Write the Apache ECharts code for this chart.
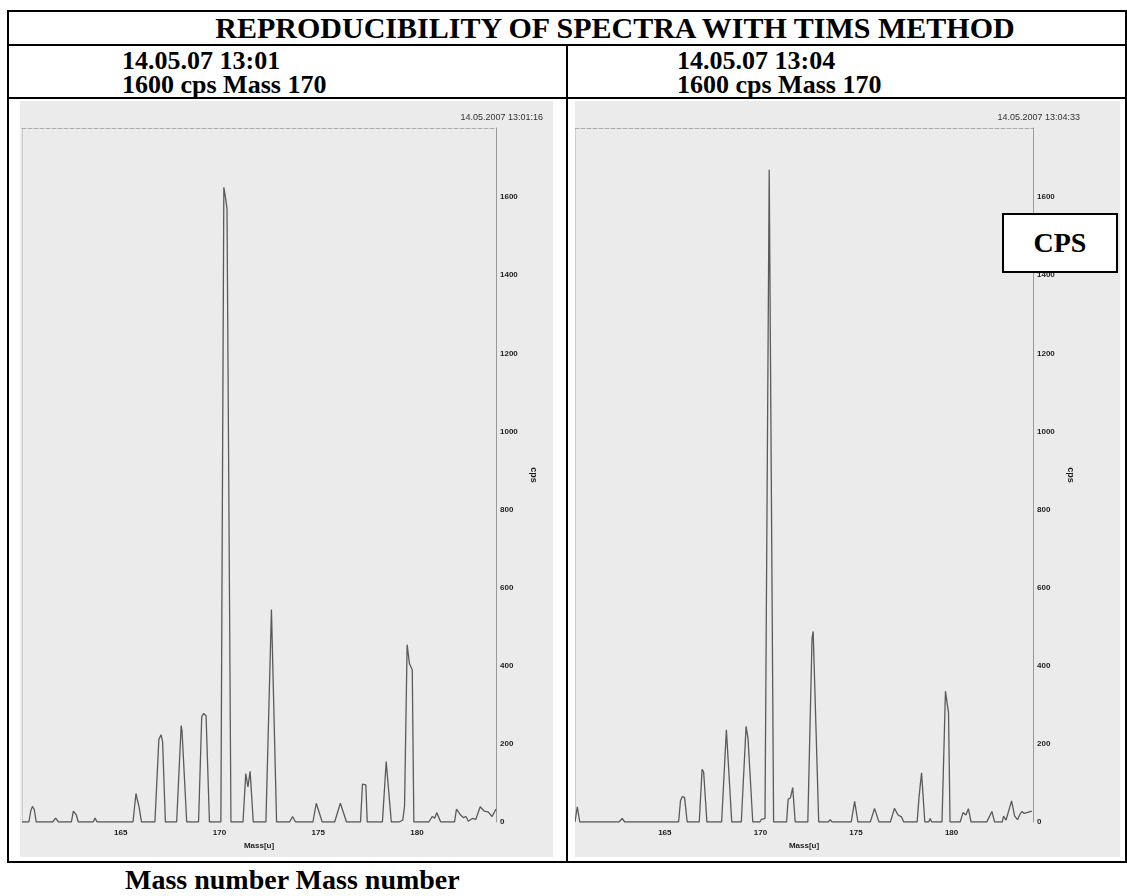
<!DOCTYPE html>
<html>
<head>
<meta charset="utf-8">
<script src="https://cdn.jsdelivr.net/npm/echarts@6/dist/echarts.min.js"></script>
<style>
  body{margin:0;background:#fff;width:1127px;height:896px;position:relative;overflow:hidden;
    font-family:"Liberation Serif","Times New Roman",serif;}
  .ln{position:absolute;background:#000;}
  .txt{position:absolute;font-weight:bold;color:#000;white-space:nowrap;line-height:1;}
  .chart{position:absolute;}
  #cpsbox{position:absolute;left:1002px;top:213px;width:112px;height:56px;background:#fff;
    border:2px solid #000;font-weight:bold;font-size:28px;line-height:56px;text-align:center;}
</style>
</head>
<body>
<!-- table frame -->
<div class="ln" style="left:7px;top:10px;width:1120px;height:2px"></div>
<div class="ln" style="left:7px;top:44px;width:1120px;height:2px"></div>
<div class="ln" style="left:7px;top:97px;width:1120px;height:2px"></div>
<div class="ln" style="left:7px;top:861px;width:1120px;height:2px"></div>
<div class="ln" style="left:7px;top:10px;width:2px;height:853px"></div>
<div class="ln" style="left:1125px;top:10px;width:2px;height:853px"></div>
<div class="ln" style="left:566px;top:44px;width:2px;height:819px"></div>

<div class="txt" style="left:0;width:1230px;text-align:center;top:13px;font-size:30px">REPRODUCIBILITY OF SPECTRA WITH TIMS METHOD</div>
<div class="txt" style="left:122px;top:48px;font-size:26px">14.05.07 13:01</div>
<div class="txt" style="left:122px;top:72px;font-size:26px">1600 cps Mass 170</div>
<div class="txt" style="left:677px;top:48px;font-size:26px">14.05.07 13:04</div>
<div class="txt" style="left:677px;top:72px;font-size:26px">1600 cps Mass 170</div>
<div class="txt" style="left:125px;top:866px;font-size:28px">Mass number Mass number</div>

<div id="left" class="chart" style="left:20px;top:101px;width:533px;height:756px"></div>
<div id="right" class="chart" style="left:575px;top:101px;width:545px;height:756px"></div>
<div id="cpsbox">CPS</div>

<script>
// tick labels
var massTicks = [165, 170, 175, 180];
var cpsTicks = [0, 200, 400, 600, 800, 1000, 1200, 1400, 1600];

// spectrum 13:01 (vertices)
var massLeft = [160.0,160.35,160.45,160.53,160.62,160.72, 161.55,161.7,161.85,
  162.5,162.6,162.67,162.75,162.85, 163.6,163.7,163.8,
  165.62,165.77,165.85,165.93,166.05, 166.73,166.93,167.04,167.12,167.26,
  167.83,168.06,168.1,168.34, 168.94,169.1,169.2,169.32,169.49,
  170.07,170.22,170.3,170.38,170.58, 171.19,171.33,171.44,171.55,171.71,
  172.35,172.63,172.89, 173.55,173.7,173.85, 174.73,174.9,175.0,175.2,
  175.83,176.12,176.43, 177.14,177.24,177.41,177.48, 178.25,178.44,178.5,178.7,
  179.1,179.28,179.37,179.5,179.62,179.76,179.84,
  180.6,180.77,180.9,181.0,181.2,
  181.9,182.0,182.22,182.36,182.48,182.6,182.8,182.98,183.2,183.4,183.6,183.8,184.0];
var cpsLeft = [0,0,30,40,32,0, 0,10,0,
  0,28,32,18,0, 0,10,0,
  0,73,55,38,0, 0,212,223,205,0,
  0,247,235,0, 0,270,278,272,0,
  0,1625,1600,1570,0, 0,124,90,130,0,
  0,544,0, 0,14,0, 0,48,48,0,
  0,48,0, 0,97,95,0, 0,155,152,0,
  0,5,41,454,405,390,0,
  0,14,10,24,0,
  0,33,17,11,14,2,9,7,39,28,26,14,33];

// spectrum 13:04
var massRight = [160.3,160.42,160.55, 162.6,162.77,162.9,
  165.72,165.82,165.92,166.03,166.17, 166.8,166.95,167.03,167.2,
  167.97,168.22,168.5, 169.0,169.25,169.35,169.6,
  169.97,170.05,170.24,170.46,170.69, 171.37,171.45,171.57,171.69,171.82,
  172.48,172.7,172.76,173.05, 173.55,173.65,173.75, 174.75,174.93,175.1,
  175.75,175.97,176.2, 176.8,177.01,177.2,177.38,177.5,
  178.2,178.3,178.43,178.6, 178.8,178.88,178.96,
  179.5,179.68,179.78,179.84,179.92,
  180.45,180.6,180.75,180.88,181.02, 181.85,181.9,182.11,182.25,
  182.65,182.72,182.85,183.14,183.3,183.45,183.58,183.69,183.8,183.9,184.2];
var cpsRight = [0,39,0, 0,9,0,
  0,55,65,63,0, 0,135,128,0,
  0,236,0, 0,245,215,0,
  0,7,9,1670,0, 0,58,62,88,0,
  0,470,488,0, 0,6,0, 0,53,0,
  0,35,0, 0,35,18,13,0,
  0,65,126,0, 0,9,0,
  0,335,300,280,0,
  0,24,18,34,0, 0,6,27,0,
  0,15,5,54,15,6,20,27,22,24,28];

var stampLeft = '14.05.2007 13:01:16';
var stampRight = '14.05.2007 13:04:33';

function pairs(xs, ys){
  var out = [];
  for(var i=0;i<xs.length;i++){ out.push([xs[i], ys[i]]); }
  return out;
}

function plain(v){ return String(v); }

function spectrumOption(mass, cps, stamp, xMin, xMax, grid, stampRightPx){
  var small = {fontFamily:'Liberation Sans, Arial', fontSize:8, fontWeight:'bold', color:'#1e1e1e'};
  return {
    animation:false,
    backgroundColor:'#ebebeb',
    title:{text:stamp, right:stampRightPx, top:7,
      textStyle:{fontFamily:'Liberation Sans, Arial', fontSize:9, fontWeight:'normal', color:'#333'}},
    grid:grid,
    xAxis:[{
      type:'value', min:xMin, max:xMax,
      axisLine:{show:false}, splitLine:{show:false},
      axisTick:{show:false},
      axisLabel:Object.assign({customValues:massTicks, margin:7, formatter:plain}, small),
      name:'Mass[u]', nameLocation:'middle', nameGap:19, nameTextStyle:small
    },{
      // dashed frame line on top
      type:'value', position:'top', min:xMin, max:xMax,
      axisLine:{show:true, onZero:false, lineStyle:{color:'#aaa', type:'dashed', width:1}},
      axisTick:{show:false}, axisLabel:{show:false}, splitLine:{show:false}
    }],
    yAxis:[{
      type:'value', position:'right', min:0, max:1777,
      axisLine:{show:true, onZero:false, lineStyle:{color:'#999', width:1}},
      axisTick:{show:false}, splitLine:{show:false},
      axisLabel:Object.assign({customValues:cpsTicks, margin:4, formatter:plain}, small),
      name:'cps', nameLocation:'middle', nameRotate:-90, nameGap:31,
      nameTextStyle:Object.assign({}, small, {fontSize:9})
    },{
      type:'value', position:'left', min:0, max:1777,
      axisLine:{show:true, onZero:false, lineStyle:{color:'#c4c4c4', type:'dotted', width:1}},
      axisTick:{show:false}, axisLabel:{show:false}, splitLine:{show:false}
    }],
    series:[{
      type:'line', xAxisIndex:0, yAxisIndex:0,
      data:pairs(mass, cps), symbol:'none',
      lineStyle:{color:'#5a5a5a', width:1.3}
    }]
  };
}

var leftChart = echarts.init(document.getElementById('left'));
leftChart.setOption(spectrumOption(massLeft, cpsLeft, stampLeft, 160, 184,
  {left:2, right:57, top:27, bottom:35}, 5));

var rightChart = echarts.init(document.getElementById('right'));
rightChart.setOption(spectrumOption(massRight, cpsRight, stampRight, 160.3, 184.26,
  {left:0, right:87, top:27, bottom:35}, 35));
</script>
</body>
</html>
